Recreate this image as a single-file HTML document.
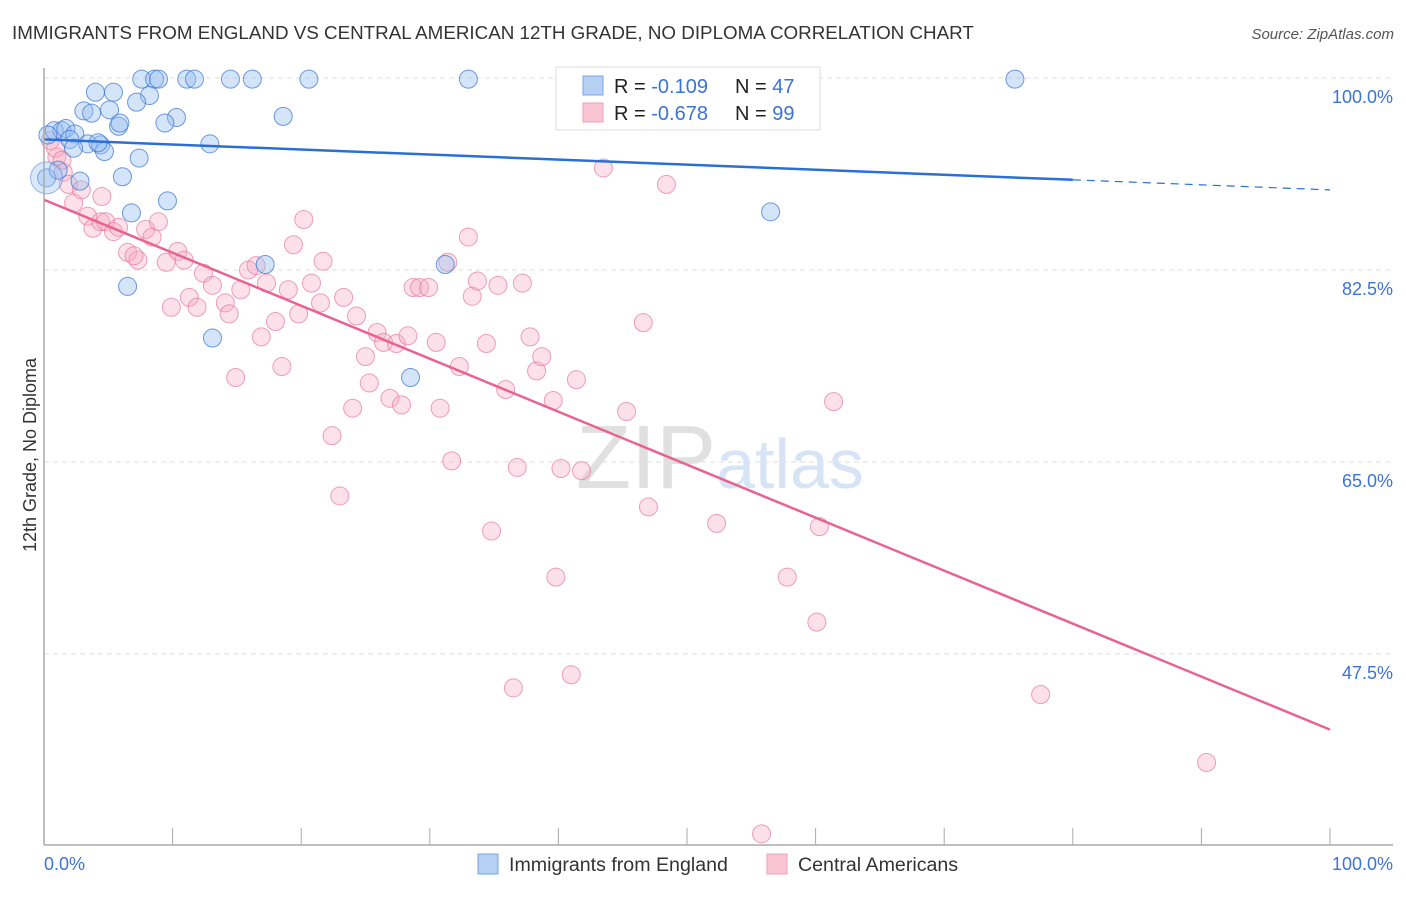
<!DOCTYPE html>
<html><head><meta charset="utf-8"><style>
body{margin:0;background:#fff;font-family:"Liberation Sans",sans-serif;}
svg text{font-family:"Liberation Sans",sans-serif;}
</style></head><body>
<svg id="c" width="1406" height="892" xmlns="http://www.w3.org/2000/svg">
<text x="12" y="39" font-size="18.8" fill="#333">IMMIGRANTS FROM ENGLAND VS CENTRAL AMERICAN 12TH GRADE, NO DIPLOMA CORRELATION CHART</text>
<text x="1394" y="39" font-size="15" fill="#555" text-anchor="end" font-style="italic">Source: ZipAtlas.com</text>
<text x="36" y="455" font-size="18" fill="#333" text-anchor="middle" transform="rotate(-90 36 455)">12th Grade, No Diploma</text>
<g id="grid"></g>
<text x="720" y="488" font-size="90" fill="#ddd" text-anchor="middle" font-family="Liberation Serif"><tspan fill="#e0e0e0">ZIP</tspan><tspan fill="#d6e4f5" font-family="Liberation Sans" font-size="70">atlas</tspan></text>
<g id="pts"></g>
<g id="lines"></g>
<line x1="44" y1="68" x2="44" y2="845" stroke="#aaa" stroke-width="1.5"/>
<line x1="44" y1="845" x2="1393" y2="845" stroke="#aaa" stroke-width="1.5"/>
<text x="44" y="870" font-size="18" fill="#3b73d6">0.0%</text>
<text x="1393" y="870" font-size="18" fill="#3b73d6" text-anchor="end">100.0%</text>
<g>
<rect x="556" y="67" width="264" height="63" fill="#fff" stroke="#ddd"/>
<rect x="583" y="76" width="20" height="19" fill="#b6d0f3" stroke="#7aa6e6"/>
<rect x="583" y="103" width="20" height="19" fill="#f9c4d4" stroke="#eea0b8"/>
<text x="614" y="93" font-size="20" fill="#222">R = <tspan fill="#3b73d6">-0.109</tspan><tspan x="735">N = </tspan><tspan fill="#3b73d6">47</tspan></text>
<text x="614" y="120" font-size="20" fill="#222">R = <tspan fill="#3b73d6">-0.678</tspan><tspan x="735">N = </tspan><tspan fill="#3b73d6">99</tspan></text>
</g>
<g>
<rect x="478" y="854" width="20" height="20" fill="#b6d0f3" stroke="#7aa6e6"/>
<text x="509" y="871" font-size="19.6" fill="#333">Immigrants from England</text>
<rect x="767" y="854" width="20" height="20" fill="#f9c4d4" stroke="#eea0b8"/>
<text x="798" y="871" font-size="19.6" fill="#333">Central Americans</text>
</g>
</svg>
<script>
const yTicks=[100,82.5,65,47.5];
const yTickLabels=["100.0%","82.5%","65.0%","47.5%"];
const xTicks=[0,10,20,30,40,50,60,70,80,90,100];
const englandX=[7.6,8.6,8.9,11.1,11.7,14.5,16.2,20.6,33.0,75.5,4.0,5.4,8.2,7.2,5.1,3.1,3.7,18.6,10.3,9.4,5.8,5.9,0.8,1.4,1.7,2.4,2.0,3.4,4.4,4.7,2.3,12.9,7.4,6.1,2.8,0.2,9.6,6.8,56.5,17.2,31.2,6.5,13.1,28.5,1.1,0.3,4.2];
const englandY=[99.9,99.9,99.9,99.9,99.9,99.9,99.9,99.9,99.9,99.9,98.7,98.7,98.4,97.8,97.1,97.0,96.8,96.5,96.4,95.9,95.6,95.9,95.2,95.2,95.4,94.9,94.4,94.0,93.9,93.3,93.6,94.0,92.7,91.0,90.6,90.9,88.8,87.7,87.8,83.0,83.0,81.0,76.3,72.7,91.6,94.8,94.1];
const centralX=[0.5,1.0,1.5,1.9,2.9,2.3,3.4,3.8,4.4,4.8,5.4,5.8,6.5,7.3,7.0,7.9,8.4,8.9,9.5,10.4,10.9,9.9,11.3,11.9,12.4,13.1,14.1,14.4,14.9,15.3,15.9,16.5,16.9,17.3,18.0,18.5,19.0,19.4,19.8,20.2,20.8,21.5,21.7,22.4,23.0,23.3,24.0,24.3,25.0,25.3,25.9,26.4,26.9,27.4,27.8,28.3,28.7,29.2,29.9,30.5,30.8,31.7,32.3,33.0,33.3,33.7,34.4,34.8,35.3,35.9,36.5,36.8,37.2,37.8,38.3,38.7,39.6,39.8,40.2,41.0,41.4,41.8,43.5,45.3,46.6,47.0,48.4,52.3,57.8,60.1,60.3,61.4,77.5,90.4,55.8,0.9,1.4,4.5,31.4];
const centralY=[94.3,92.8,91.4,90.3,89.8,88.6,87.4,86.3,86.9,86.9,86.0,86.4,84.1,83.4,83.8,86.2,85.5,86.9,83.2,84.2,83.4,79.1,80.0,79.1,82.2,81.1,79.5,78.5,72.7,80.7,82.5,82.9,76.4,81.3,77.8,73.7,80.7,84.8,78.5,87.1,81.3,79.5,83.3,67.4,61.9,80.0,69.9,78.3,74.6,72.2,76.8,75.9,70.8,75.8,70.2,76.5,80.9,80.9,80.9,75.9,69.9,65.1,73.7,85.5,80.1,81.5,75.8,58.7,81.1,71.6,44.4,64.5,81.3,76.4,73.3,74.6,70.6,54.5,64.4,45.6,72.5,64.2,91.8,69.6,77.7,60.9,90.3,59.4,54.5,50.4,59.1,70.5,43.8,37.6,31.1,93.6,92.5,89.2,83.2];
const englandTrend=[94.4,89.8]; // y at x=0 and x=100
const centralTrend=[88.9,40.6];
const X=v=>44+v*12.86, Y=v=>78+(100-v)*10.97;
const NS="http://www.w3.org/2000/svg";
function mk(t,a,p){const e=document.createElementNS(NS,t);for(const k in a)e.setAttribute(k,a[k]);p.appendChild(e);return e;}
const grid=document.getElementById('grid');
yTicks.forEach((t,i)=>{
 const l=mk('line',{x1:44,x2:1393,y1:Y(t),y2:Y(t),stroke:'#ddd','stroke-dasharray':'5,4'},grid);
 
 
 const tx=mk('text',{x:1393,y:Y(t)+25,'font-size':18,fill:'#3b73d6','text-anchor':'end'},grid);
 tx.textContent=yTickLabels[i];
 
 
});
xTicks.forEach(t=>{
 const l=mk('line',{x1:X(t),x2:X(t),y1:828,y2:845,stroke:'#aaa'},grid);
 
 
});
const pts=document.getElementById('pts');
centralX.forEach((x,i)=>{
 const c=mk('circle',{cx:X(x),cy:Y(centralY[i]),r:9,fill:'rgba(246,170,195,0.35)',stroke:'rgba(232,120,155,0.7)','stroke-width':1},pts);
 
 
});
englandX.forEach((x,i)=>{
 const c=mk('circle',{cx:X(x),cy:Y(englandY[i]),r:9,fill:'rgba(150,190,240,0.4)',stroke:'rgba(60,120,215,0.75)','stroke-width':1},pts);
 
 
});
const big=mk('circle',{cx:X(0.2),cy:Y(90.9),r:16,fill:'rgba(150,190,240,0.35)',stroke:'rgba(60,120,215,0.5)'},pts);


const lines=document.getElementById('lines');
const ey=x=>englandTrend[0]+(englandTrend[1]-englandTrend[0])*x/100;
const cy=x=>centralTrend[0]+(centralTrend[1]-centralTrend[0])*x/100;
let l1=mk('line',{x1:X(0),y1:Y(ey(0)),x2:X(80),y2:Y(ey(80)),stroke:'#2a6fd6','stroke-width':2.5},lines);


let l2=mk('line',{x1:X(80),y1:Y(ey(80)),x2:X(100),y2:Y(ey(100)),stroke:'#2a6fd6','stroke-width':1.2,'stroke-dasharray':'8,6'},lines);


let l3=mk('line',{x1:X(0),y1:Y(cy(0)),x2:X(100),y2:Y(cy(100)),stroke:'#e8638f','stroke-width':2.5},lines);


</script>
</body></html>
